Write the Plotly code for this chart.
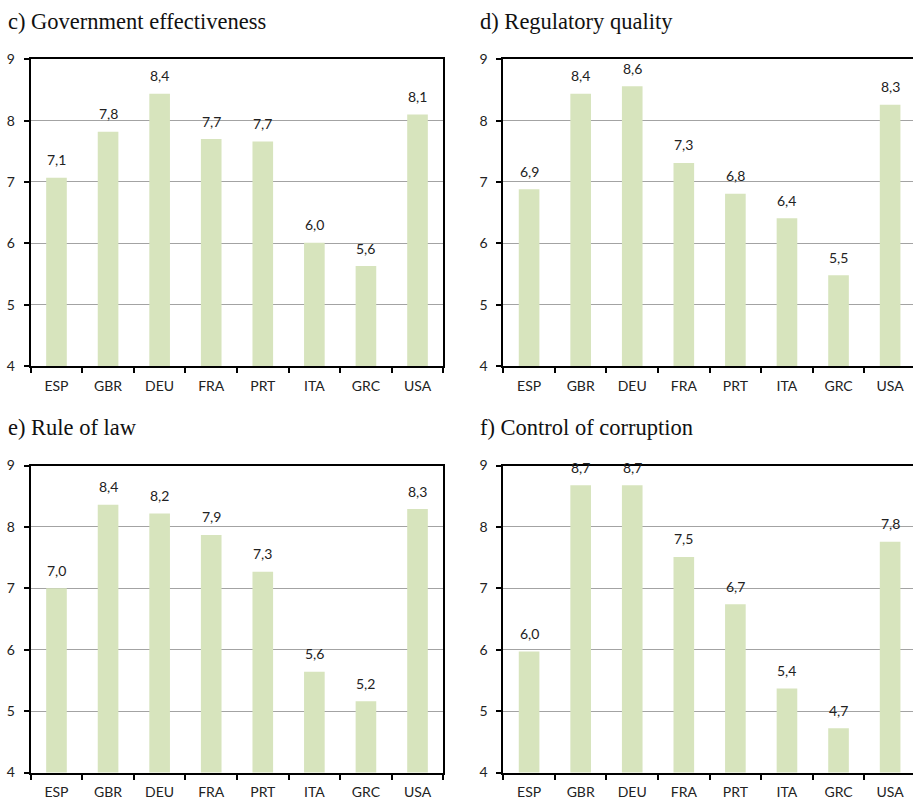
import plotly.graph_objects as go

# Governance indicators by country (scores on a 0-10 scale)
countries = ["ESP", "GBR", "DEU", "FRA", "PRT", "ITA", "GRC", "USA"]

gov_effectiveness = [7.07, 7.82, 8.44, 7.70, 7.66, 6.01, 5.63, 8.10]
regulatory_quality = [6.88, 8.44, 8.56, 7.31, 6.81, 6.41, 5.48, 8.26]
rule_of_law = [7.00, 8.36, 8.22, 7.87, 7.27, 5.64, 5.16, 8.29]
control_corruption = [5.97, 8.68, 8.68, 7.51, 6.74, 5.37, 4.72, 7.76]

panel_titles = [
    "c) Government effectiveness",
    "d) Regulatory quality",
    "e) Rule of law",
    "f) Control of corruption",
]
panel_values = [gov_effectiveness, regulatory_quality, rule_of_law, control_corruption]

y_ticks = [4, 5, 6, 7, 8, 9]

W, H = 913, 799
BAR_COLOR = "#d7e4bd"
GRID_COLOR = "#a3a3a3"
TEXT_COLOR = "#222222"
SANS = "Lato, 'Open Sans', sans-serif"
SERIF = "'Liberation Serif', 'Times New Roman', serif"

# plot areas in pixels: (left, right, top, bottom)
left_x = (30.7, 443.3)
right_x = (503.3, 913.0)
top_y = (59.3, 366.0)
bottom_y = (465.5, 772.5)
areas = [
    (left_x, top_y, True),
    (right_x, top_y, False),
    (left_x, bottom_y, True),
    (right_x, bottom_y, False),
]
cat_width = (left_x[1] - left_x[0]) / len(countries)

fig = go.Figure()
annotations = []

for i, (title, vals, (xs, ys, full_frame)) in enumerate(zip(panel_titles, panel_values, areas)):
    n = i + 1
    xa = "x" if n == 1 else f"x{n}"
    ya = "y" if n == 1 else f"y{n}"
    fig.add_trace(go.Bar(
        x=countries, y=vals, base=0, width=0.4,
        marker=dict(color=BAR_COLOR, line=dict(width=0)),
        xaxis=xa, yaxis=ya, showlegend=False, hoverinfo="x+y",
    ))

    x_dom = [xs[0] / W, xs[1] / W]
    y_dom = [1 - ys[1] / H, 1 - ys[0] / H]
    span = (xs[1] - xs[0]) / cat_width
    x_range = [-0.5, -0.5 + span]

    xkey = "xaxis" if n == 1 else f"xaxis{n}"
    ykey = "yaxis" if n == 1 else f"yaxis{n}"
    fig.layout[xkey] = dict(
        domain=x_dom, anchor=ya, type="category",
        categoryorder="array", categoryarray=countries,
        range=x_range, showgrid=False, showline=True,
        linecolor="black", linewidth=2, mirror=True,
        ticks="outside", tickson="boundaries", ticklen=5,
        tickcolor="black", tickwidth=2,
        tickfont=dict(family=SANS, size=14, color=TEXT_COLOR),
        ticklabelstandoff=6, fixedrange=True, automargin=False,
    )
    fig.layout[ykey] = dict(
        domain=y_dom, anchor=xa, range=[4, 9],
        tickvals=y_ticks, ticktext=[str(t) for t in y_ticks],
        showgrid=True, gridcolor=GRID_COLOR, gridwidth=1,
        showline=True, linecolor="black", linewidth=2,
        mirror=full_frame, ticks="outside", ticklen=5,
        tickcolor="black", tickwidth=2,
        tickfont=dict(family=SANS, size=14, color=TEXT_COLOR),
        ticklabelstandoff=6, fixedrange=True, automargin=False,
    )

    # panel title
    annotations.append(dict(
        text=title, xref="paper", yref="paper",
        x=(xs[0] - 25) / W, y=1 - (ys[0] - 38) / H,
        xanchor="left", yanchor="middle", showarrow=False,
        font=dict(family=SERIF, size=22.5, color="#111111"),
    ))

    # value labels above bars
    for c, v in zip(countries, vals):
        annotations.append(dict(
            text=f"{v:.1f}".replace(".", ","), x=c, y=v,
            xref=xa, yref=ya, yshift=18, showarrow=False,
            xanchor="center", yanchor="middle",
            font=dict(family=SANS, size=14, color=TEXT_COLOR),
        ))

fig.update_layout(
    width=W, height=H,
    margin=dict(l=0, r=0, t=0, b=0, pad=0, autoexpand=False),
    paper_bgcolor="white", plot_bgcolor="white",
    annotations=annotations, bargap=0.6,
)

fig.write_html("out.html", config={"displayModeBar": False})
